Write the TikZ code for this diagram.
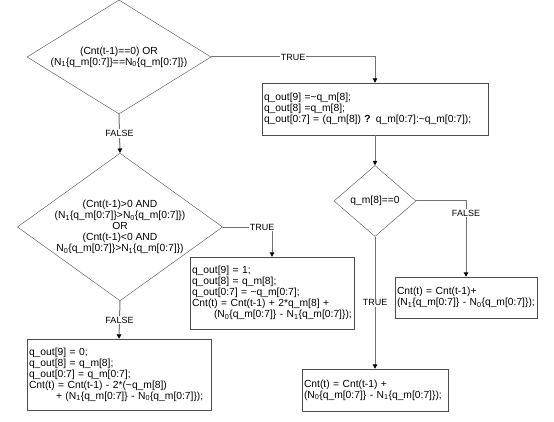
\documentclass[tikz,border=0pt]{standalone}
\usepackage{fontspec}
\setmainfont{Liberation Sans}
\usetikzlibrary{shapes.geometric,arrows.meta}
\tikzset{
    code-box/.style = {draw=black!70, fill=white, thin, rectangle, inner xsep=2pt, inner ysep=0pt, align=left, font=\fontsize{10.3}{11}\selectfont},
    test-diamond/.style = {draw=black!70, fill=white, thin, diamond, inner sep=0pt, align=center, font=\fontsize{10.3}{11}\selectfont},
    flow-line/.style = {draw=black!55, line width=1pt, -{Triangle[length=4.5pt,width=4.5pt,color=black]}},
    flow-label/.style = {fill=white, inner sep=1pt, font=\fontsize{9}{10}\selectfont},
}
\begin{document}
\begin{tikzpicture}[x=1pt,y=-1pt]
\useasboundingbox (0,0) rectangle (554,422);
\node [test-diamond, minimum width=184pt, minimum height=114pt, aspect=1.6] (zero-test) at (119,57)
    {(Cnt(t-1)==0) OR\\(N\textsubscript{1}\{q\_m[0:7]\}==N\textsubscript{0}\{q\_m[0:7]\})};
\node [code-box, text width=222pt, minimum height=52pt] (invert-box) at (375,109)
    {q\_out[9] =\textasciitilde q\_m[8];\\
     q\_out[8] =q\_m[8];\\
     q\_out[0:7] = (q\_m[8]) \textbf{?} q\_m[0:7]:\textasciitilde q\_m[0:7]);};
\node [test-diamond, minimum width=200pt, minimum height=144pt, aspect=1.39] (sign-test) at (120,227)
    {(Cnt(t-1)>0 AND\\
     (N\textsubscript{1}\{q\_m[0:7]\}>N\textsubscript{0}\{q\_m[0:7]\})\\
     OR\\
     (Cnt(t-1)<0 AND\\
     N\textsubscript{0}\{q\_m[0:7]\}>N\textsubscript{1}\{q\_m[0:7]\})};
\node [code-box, text width=160pt, minimum height=72pt] (true-box) at (272,293)
    {q\_out[9] = 1;\\
     q\_out[8] = q\_m[8];\\
     q\_out[0:7] = \textasciitilde q\_m[0:7];\\
     Cnt(t) = Cnt(t-1) + 2*q\_m[8] +\\
     \hspace*{22pt}(N\textsubscript{0}\{q\_m[0:7]\} - N\textsubscript{1}\{q\_m[0:7]\});};
\node [code-box, text width=180pt, minimum height=71pt] (false-box) at (119,374.5)
    {q\_out[9] = 0;\\
     q\_out[8] = q\_m[8];\\
     q\_out[0:7] = q\_m[0:7];\\
     Cnt(t) = Cnt(t-1) - 2*(\textasciitilde q\_m[8])\\
     \hspace*{27pt}+ (N\textsubscript{1}\{q\_m[0:7]\} - N\textsubscript{0}\{q\_m[0:7]\});};
\node [test-diamond, minimum width=82pt, minimum height=71pt, aspect=1.15] (bit-test) at (375,201) {q\_m[8]==0};
\node [code-box, text width=138pt, minimum height=41pt] (one-box) at (466,297.5)
    {Cnt(t) = Cnt(t-1)+\\
     (N\textsubscript{1}\{q\_m[0:7]\} - N\textsubscript{0}\{q\_m[0:7]\});};
\node [code-box, text width=142pt, minimum height=42pt] (zero-box) at (375,390)
    {Cnt(t) = Cnt(t-1) +\\
     (N\textsubscript{0}\{q\_m[0:7]\} - N\textsubscript{1}\{q\_m[0:7]\});};
% connectors
\draw [flow-line] (zero-test.east) -| node [flow-label, pos=0.25] {TRUE} (invert-box.north);
\draw [flow-line] (zero-test.south) -- node [flow-label] {FALSE} (sign-test.north);
\draw [flow-line] (invert-box.south) -- (bit-test.north);
\draw [flow-line] (sign-test.east) -| node [flow-label, pos=0.4] {TRUE} (true-box.north);
\draw [flow-line] (sign-test.south) -- node [flow-label] {FALSE} (false-box.north);
\draw [flow-line] (bit-test.east) -| node [flow-label, pos=0.58] {FALSE} (one-box.north);
\draw [flow-line] (bit-test.south) -- node [flow-label] {TRUE} (zero-box.north);
\end{tikzpicture}
\end{document}
